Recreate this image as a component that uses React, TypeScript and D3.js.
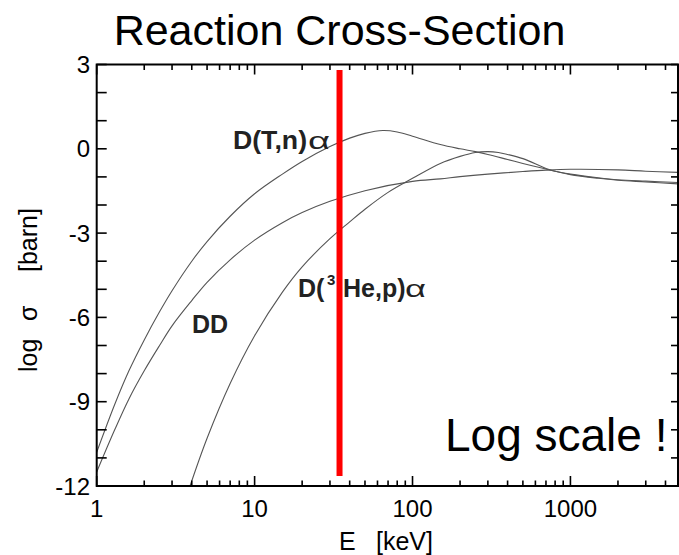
import React from "react";
import * as d3 from "d3";

// ---- data ----
const energyDT = [1, 1.3, 1.6, 2, 2.5, 3, 4, 5, 7, 10, 15, 20, 30, 40, 50, 65, 80, 100, 150, 200, 250, 300, 400, 500, 700, 800, 1000, 1500, 2000, 3000, 4800];
const logSigmaDT = [-10.8, -9.1, -7.9, -6.8, -5.8, -5.05, -4.0, -3.3, -2.4, -1.6, -0.9, -0.45, 0.08, 0.38, 0.55, 0.65, 0.6, 0.45, 0.15, 0.0, -0.1, -0.2, -0.38, -0.52, -0.72, -0.8, -0.92, -1.05, -1.12, -1.18, -1.25];

const energyDHe3 = [3.9, 5, 7, 10, 15, 20, 30, 40, 50, 70, 100, 150, 200, 250, 300, 350, 400, 500, 700, 800, 1000, 1500, 2000, 3000, 4800];
const logSigmaDHe3 = [-12, -10.3, -8.35, -6.65, -5.1, -4.2, -3.2, -2.6, -2.15, -1.55, -1.05, -0.52, -0.27, -0.13, -0.1, -0.13, -0.2, -0.35, -0.7, -0.8, -0.9, -1.03, -1.1, -1.15, -1.2];

const energyDD = [1, 1.3, 1.6, 2, 2.5, 3, 4, 5, 7, 10, 15, 20, 30, 50, 100, 150, 200, 300, 500, 700, 1000, 2000, 3000, 4800];
const logSigmaDD = [-11.5, -10.0, -8.9, -7.9, -7.0, -6.3, -5.4, -4.75, -3.95, -3.25, -2.63, -2.27, -1.87, -1.49, -1.16, -1.07, -0.99, -0.9, -0.81, -0.76, -0.73, -0.75, -0.8, -0.84];

const xDomain = [1, 4800];
const yDomain = [-12, 3];
const xTickLabels = [1, 10, 100, 1000];
const yTickLabels = [3, 0, -3, -6, -9, -12];

const markerEnergy = 34.5; // red line
const markerRange = [2.8, -11.64];

const title = "Reaction Cross-Section";
const note = "Log scale !";

const FONT = "'Liberation Sans', Arial, Helvetica, sans-serif";

export default function App() {
  const left = 96.7, right = 678, top = 64.5, bottom = 486;
  const x = d3.scaleLog().domain(xDomain).range([left, right]);
  const y = d3.scaleLinear().domain(yDomain).range([bottom, top]);

  const line = d3
    .line<[number, number]>()
    .x((d) => x(d[0]))
    .y((d) => y(d[1]))
    .curve(d3.curveCatmullRom.alpha(0.5));

  const series = [
    energyDT.map((e, i) => [e, logSigmaDT[i]] as [number, number]),
    energyDHe3.map((e, i) => [e, logSigmaDHe3[i]] as [number, number]),
    energyDD.map((e, i) => [e, logSigmaDD[i]] as [number, number]),
  ];

  const xTicks = x.ticks();
  const isMajor = (v: number) => Math.abs(Math.log10(v) - Math.round(Math.log10(v))) < 1e-9;
  const yTicks = d3.range(yDomain[0], yDomain[1] + 1, 1);

  return (
    <svg
      width={679}
      height={555}
      style={{ position: "absolute", left: 0, top: 0, background: "#fff" }}
      fontFamily={FONT}
    >
      <rect x={0} y={0} width={679} height={555} fill="#fff" />
      <defs>
        <clipPath id="plot">
          <rect x={left} y={top} width={right - left} height={bottom - top} />
        </clipPath>
      </defs>

      {/* title */}
      <text x={339.5} y={45} textAnchor="middle" fontSize={43} fill="#000">
        {title}
      </text>

      {/* curves */}
      <g clipPath="url(#plot)">
        {series.map((s, i) => (
          <path key={i} d={line(s) || ""} fill="none" stroke="#555" strokeWidth={1.1} />
        ))}
      </g>

      {/* x ticks bottom & top */}
      {xTicks.map((t, i) => {
        const len = isMajor(t) ? 10 : 5.5;
        const px = x(t);
        return (
          <g key={"xt" + i}>
            <line x1={px} x2={px} y1={bottom} y2={bottom - len} stroke="#000" strokeWidth={1.6} />
            <line x1={px} x2={px} y1={top} y2={top + len} stroke="#000" strokeWidth={1.6} />
          </g>
        );
      })}
      {/* y ticks left & right */}
      {yTicks.map((t, i) => (
        <g key={"yt" + i}>
          <line x1={left} x2={left + 10} y1={y(t)} y2={y(t)} stroke="#000" strokeWidth={1.6} />
          <line x1={right} x2={right - 7} y1={y(t)} y2={y(t)} stroke="#000" strokeWidth={1.6} />
        </g>
      ))}

      {/* frame */}
      <rect x={left} y={top} width={right - left} height={bottom - top} fill="none" stroke="#000" strokeWidth={2} />

      {/* tick labels */}
      {xTickLabels.map((t) => (
        <text key={"xl" + t} x={x(t)} y={517} textAnchor="middle" fontSize={24} fill="#000">
          {t}
        </text>
      ))}
      {yTickLabels.map((t) => (
        <text key={"yl" + t} x={90} y={y(t) + 8.6} textAnchor="end" fontSize={24} fill="#000">
          {t}
        </text>
      ))}

      {/* axis titles */}
      <text x={339} y={550} fontSize={25} fill="#000">E</text>
      <text x={376} y={550} fontSize={25} fill="#000">[keV]</text>
      <text transform="translate(37,372) rotate(-90)" fontSize={25} fill="#000">log</text>
      <text transform="translate(37,321) rotate(-90)" fontSize={25} fill="#000">σ</text>
      <text transform="translate(37,272) rotate(-90)" fontSize={25} fill="#000">[barn]</text>

      {/* curve labels */}
      <text x={233} y={149} fontSize={25} fontWeight="bold" fill="#222" textLength={74} lengthAdjust="spacingAndGlyphs">D(T,n)</text>
      <text x={308} y={149} fontSize={24} fill="#222" textLength={22} lengthAdjust="spacingAndGlyphs">α</text>
      <text x={192} y={333} fontSize={25} fontWeight="bold" fill="#222">DD</text>
      <text x={298} y={297} fontSize={25} fontWeight="bold" fill="#222">D(</text>
      <text x={327} y={285} fontSize={15} fontWeight="bold" fill="#222">3</text>
      <text x={343} y={297} fontSize={25} fontWeight="bold" fill="#222">He,p)</text>
      <text x={405} y={297} fontSize={24} fill="#222" textLength={21} lengthAdjust="spacingAndGlyphs">α</text>

      {/* red marker line */}
      <line
        x1={x(markerEnergy)}
        x2={x(markerEnergy)}
        y1={y(markerRange[0])}
        y2={y(markerRange[1])}
        stroke="#ff0000"
        strokeWidth={6}
      />

      {/* note */}
      <text x={445} y={451} fontSize={46} fill="#000">{note}</text>
    </svg>
  );
}
